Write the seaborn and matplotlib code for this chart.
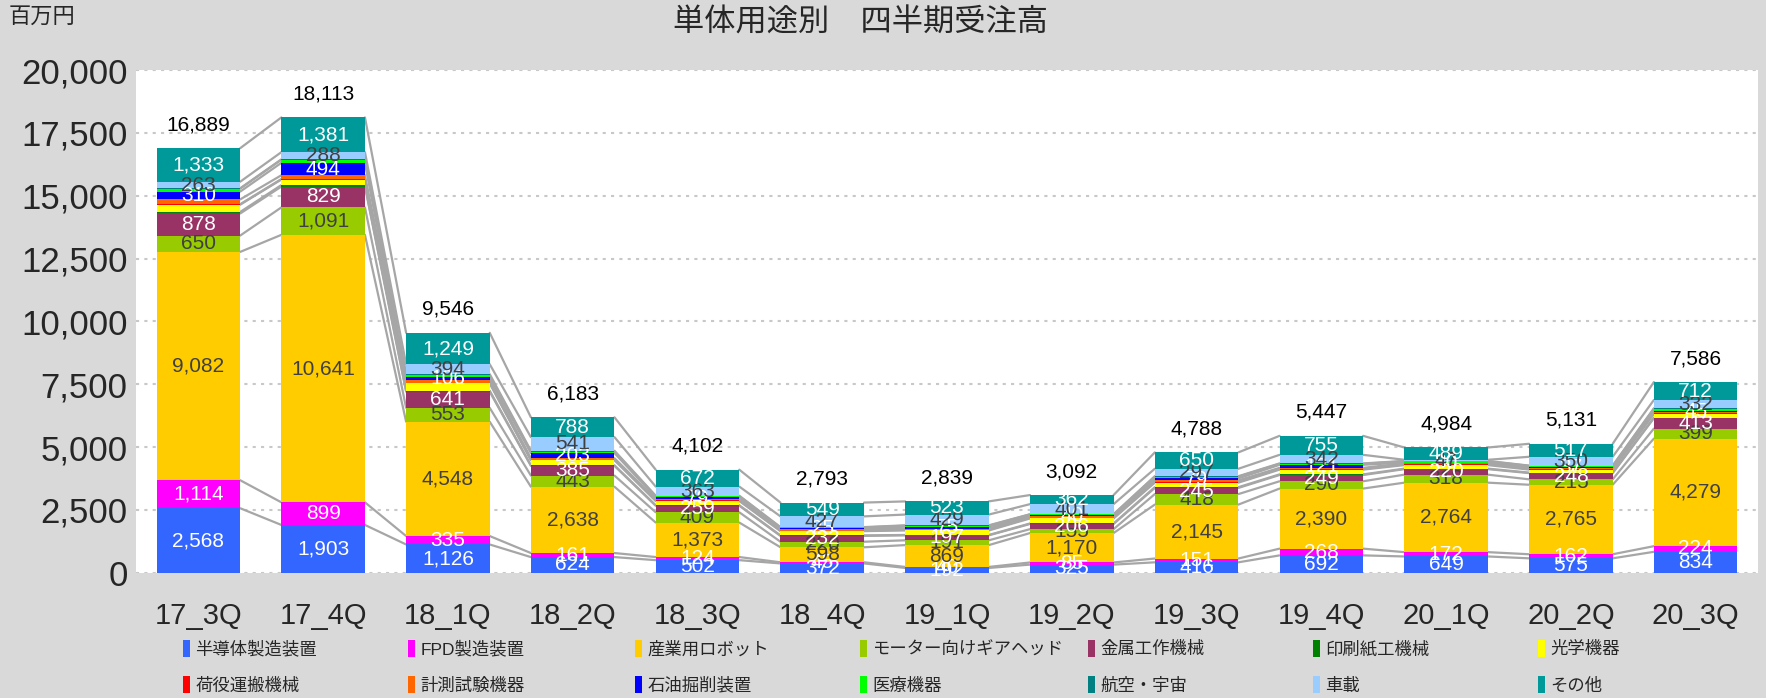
import numpy as np
import pandas as pd
import matplotlib
matplotlib.use('Agg')
import matplotlib.pyplot as plt
import seaborn as sns
from matplotlib.patches import Patch

## data (百万円)
quarters = ['17_3Q', '17_4Q', '18_1Q', '18_2Q', '18_3Q', '18_4Q', '19_1Q',
            '19_2Q', '19_3Q', '19_4Q', '20_1Q', '20_2Q', '20_3Q']

semicon = [2568, 1903, 1126, 624, 502, 372, 192, 325, 416, 692, 649, 575, 834]
fpd = [1114, 899, 335, 161, 124, 45, 40, 85, 151, 268, 172, 162, 224]
robot = [9082, 10641, 4548, 2638, 1373, 598, 869, 1170, 2145, 2390, 2764, 2765, 4279]
motor = [650, 1091, 553, 443, 409, 220, 191, 155, 418, 290, 318, 215, 399]
metal = [878, 829, 641, 385, 259, 232, 197, 206, 245, 249, 220, 248, 413]
printing = [60, 60, 40, 25, 20, 20, 15, 20, 30, 25, 20, 20, 20]
optical = [290, 220, 290, 200, 170, 170, 180, 200, 180, 190, 140, 120, 150]
handling = [20, 20, 20, 20, 20, 20, 25, 30, 40, 30, 30, 30, 40]
measuring = [190, 150, 110, 60, 50, 60, 50, 50, 50, 40, 40, 40, 50]
oil = [310, 494, 106, 203, 79, 25, 75, 40, 79, 121, 30, 37, 45]
medical = [120, 125, 80, 60, 40, 40, 40, 40, 70, 40, 55, 40, 70]
aerospace = [11, 12, 54, 35, 21, 15, 13, 8, 17, 15, 10, 12, 18]
auto = [263, 288, 394, 541, 363, 427, 429, 401, 297, 342, 47, 350, 332]
other = [1333, 1381, 1249, 788, 672, 549, 523, 362, 650, 755, 489, 517, 712]

names = ['半導体製造装置', 'FPD製造装置', '産業用ロボット', 'モーター向けギアヘッド',
         '金属工作機械', '印刷紙工機械', '光学機器', '荷役運搬機械', '計測試験機器',
         '石油掘削装置', '医療機器', '航空・宇宙', '車載', 'その他']
values = [semicon, fpd, robot, motor, metal, printing, optical, handling,
          measuring, oil, medical, aerospace, auto, other]
colors = ['#3366FF', '#FF00FF', '#FFCC00', '#99CC00', '#993366', '#008000',
          '#FFFF00', '#FF0000', '#FF6600', '#0000FF', '#00FF00', '#008080',
          '#99CCFF', '#009999']
# label colour for series that show data labels
label_color = {'半導体製造装置': 'white', 'FPD製造装置': 'white',
               '産業用ロボット': '#404040', 'モーター向けギアヘッド': '#404040',
               '金属工作機械': 'white', '石油掘削装置': 'white',
               '車載': '#404040', 'その他': 'white'}

df = pd.DataFrame(dict(zip(names, values)), index=quarters)
cum = df.cumsum(axis=1)
totals = df.sum(axis=1)

sns.set_theme(style='white')
plt.rcParams['font.family'] = ['Liberation Sans', 'Noto Sans CJK JP']

fig = plt.figure(figsize=(17.66, 6.98), dpi=100, facecolor='#D9D9D9')
ax = fig.add_axes([0.077, 0.1794, 0.9185, 0.7203])
ax.set_facecolor('white')

bw = 0.67
x = np.arange(len(quarters))

## stacked bars: draw cumulative heights from the top series down
for name, c in reversed(list(zip(names, colors))):
    sns.barplot(x=quarters, y=cum[name].values, color=c, saturation=1,
                width=bw, linewidth=0, errorbar=None, ax=ax, zorder=3)

## series lines between bars
for name in names:
    top = cum[name].values
    for i in range(len(quarters) - 1):
        ax.plot([x[i] + bw / 2, x[i + 1] - bw / 2], [top[i], top[i + 1]],
                color='#A6A6A6', lw=1.6, zorder=2)

## data labels
for name in names:
    if name not in label_color:
        continue
    mid = (cum[name] - df[name] / 2).values
    for i, v in enumerate(df[name].values):
        ax.text(x[i], mid[i], f'{v:,}', ha='center', va='center',
                fontsize=15, color=label_color[name], zorder=5)

for i, t in enumerate(totals.values):
    ax.annotate(f'{t:,}', (x[i], t), xytext=(0, 10), textcoords='offset points',
                ha='center', va='bottom', fontsize=15, color='black')

ax.set_xlim(-0.5, len(quarters) - 0.5)
ax.set_ylim(0, 20000)
ax.set_yticks(np.arange(0, 20001, 2500))
ax.set_yticklabels([f'{v:,}' for v in range(0, 20001, 2500)], fontsize=25)
ax.set_xticks(x)
ax.set_xticklabels(quarters, fontsize=21)
ax.tick_params(axis='x', length=0, pad=21)
ax.tick_params(axis='y', length=0, pad=6)
ax.set_xlabel('')
ax.set_ylabel('')
ax.yaxis.grid(True, linestyle=(0, (1.5, 2.5)), color='#C8C8C8', lw=1.5, zorder=0)
ax.set_axisbelow(True)
for s in ax.spines.values():
    s.set_visible(False)

fig.text(0.4875, 0.966, '単体用途別　四半期受注高', ha='center', va='center', fontsize=22.5)
fig.text(0.005, 0.975, '百万円', ha='left', va='center', fontsize=16)

## legend: 7 columns x 2 rows
col_x = [183, 408, 635, 860, 1088, 1313, 1538]
for j, cx in enumerate(col_x):
    hs = [Patch(facecolor=colors[k], edgecolor='none') for k in (j, j + 7)]
    fig.legend(handles=hs, labels=[names[j], names[j + 7]], loc='upper left',
               bbox_to_anchor=(cx / 1766, 1 - 640 / 698), frameon=False,
               fontsize=12.5, handlelength=0.4, handleheight=1.1,
               handletextpad=0.3, labelspacing=1.1, borderpad=0,
               borderaxespad=0)

fig.savefig('out.png', dpi=100, facecolor=fig.get_facecolor())
